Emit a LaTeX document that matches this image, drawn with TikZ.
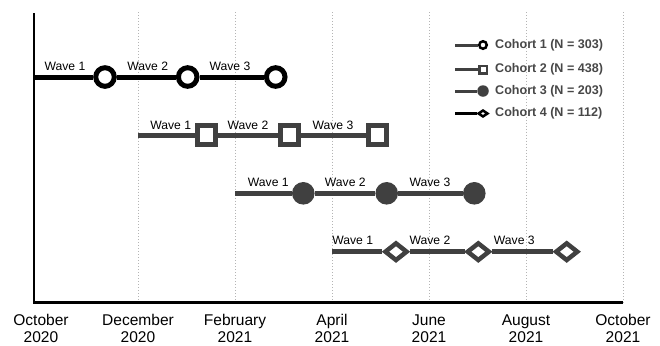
\documentclass[tikz,border=0pt]{standalone}
\usepackage{fontspec}
\setmainfont{Liberation Sans}
\usetikzlibrary{shapes.geometric}

\definecolor{darkgr}{HTML}{404040}
\definecolor{gridgr}{HTML}{B4B4B4}
\definecolor{legtxt}{HTML}{474747}

\tikzset{
	ring/.style={circle,draw=#1,fill=white,line width=5bp,minimum size=18.6bp,inner sep=0pt},
	sqbox/.style={rectangle,draw=#1,fill=white,line width=5bp,minimum size=18.3bp,inner sep=0pt},
	blob/.style={circle,fill=#1,minimum size=22.6bp,inner sep=0pt},
	kite/.style={diamond,draw=#1,fill=white,line width=4.5bp,minimum width=23bp,minimum height=18.5bp,inner sep=0pt},
	cline/.style={draw=#1,line width=5bp},
	wavelab/.style={inner sep=0pt,font=\fontsize{12.2}{14}\selectfont},
	datelab/.style={inner sep=0pt,align=center,font=\fontsize{15.6}{17.2}\selectfont},
	leglab/.style={inner sep=0pt,anchor=west,text=legtxt,font=\bfseries\fontsize{12.6}{14}\selectfont},
	legline/.style={draw=#1,line width=3bp},
}

\begin{document}
\begin{tikzpicture}[x=1bp,y=-1bp]
	\useasboundingbox (0,0) rectangle (660,345);
	%gridlines
	\foreach \x in {138,235,...,623}{
		\draw[gridgr,line width=1bp,dotted] (\x,12) -- (\x,302.5);
	}
	%axes
	\coordinate (otop) at (34,13);
	\coordinate (orig) at (34,302.5);
	\coordinate (xend) at (623,302.5);
	\draw[line width=2.7bp] (otop) -- (orig) -- (xend);
	%date labels
	\foreach \x/\m/\yr [count=\i] in {41/October/2020,138/December/2020,235/February/2021,332/April/2021,429/June/2021,526/August/2021,623/October/2021}{
		\node[datelab] (d\i) at (\x,328.3) {\m\\\yr};
	}

	%cohort 1
	\coordinate (c1s) at (34,77);
	\node[ring=black] (c1w1) at (105,77) {};
	\node[ring=black] (c1w2) at (187.7,77) {};
	\node[ring=black] (c1w3) at (275.7,77) {};
	\draw[cline=black] (c1s) -- (c1w1) -- (c1w2) -- (c1w3);
	%cohort 2
	\coordinate (c2s) at (138,135);
	\node[sqbox=darkgr] (c2w1) at (206.7,135) {};
	\node[sqbox=darkgr] (c2w2) at (289.3,135) {};
	\node[sqbox=darkgr] (c2w3) at (377.7,135) {};
	\draw[cline=darkgr] (c2s) -- (c2w1) -- (c2w2) -- (c2w3);
	%cohort 3
	\coordinate (c3s) at (235,193.3);
	\node[blob=darkgr] (c3w1) at (303.3,193.3) {};
	\node[blob=darkgr] (c3w2) at (386.7,193.3) {};
	\node[blob=darkgr] (c3w3) at (474.3,193.3) {};
	\draw[cline=darkgr] (c3s) -- (c3w1) -- (c3w2) -- (c3w3);
	%cohort 4
	\coordinate (c4s) at (332,251.7);
	\node[kite=darkgr] (c4w1) at (396,251.7) {};
	\node[kite=darkgr] (c4w2) at (478.3,251.7) {};
	\node[kite=darkgr] (c4w3) at (566.7,251.7) {};
	\draw[cline=darkgr] (c4s) -- (c4w1) -- (c4w2) -- (c4w3);

	%wave labels
	\foreach \x/\y/\n [count=\i] in {65/66.7/1,147.7/66.7/2,230/66.7/3,
		170.7/125/1,248/125/2,333/125/3,
		268.3/182.3/1,345.3/182.3/2,430/182.3/3,
		352.7/240.7/1,430/240.7/2,514.3/240.7/3}{
		\node[wavelab] (wl\i) at (\x,\y) {Wave \n};
	}

	%legend
	\coordinate (l1s) at (455,45);
	\coordinate (l2s) at (455,69.5);
	\coordinate (l3s) at (455,91);
	\coordinate (l4s) at (455,113.5);
	\node[ring=black,line width=2.5bp,minimum size=7.5bp] (l1m) at (483,45) {};
	\node[sqbox=darkgr,line width=2.5bp,minimum size=7.5bp] (l2m) at (483,69.5) {};
	\node[blob=darkgr,minimum size=11.5bp] (l3m) at (483,91) {};
	\node[kite=black,line width=2.5bp,minimum width=10bp,minimum height=7bp] (l4m) at (483,113.5) {};
	\draw[legline=darkgr] (l1s) -- (l1m);
	\draw[legline=darkgr] (l2s) -- (l2m);
	\draw[legline=darkgr] (l3s) -- (l3m);
	\draw[legline=black] (l4s) -- (l4m);
	\node[leglab] (lt1) at (495,45) {Cohort 1 (N = 303)};
	\node[leglab] (lt2) at (495,69.5) {Cohort 2 (N = 438)};
	\node[leglab] (lt3) at (495,91) {Cohort 3 (N = 203)};
	\node[leglab] (lt4) at (495,113.5) {Cohort 4 (N = 112)};
\end{tikzpicture}
\end{document}
